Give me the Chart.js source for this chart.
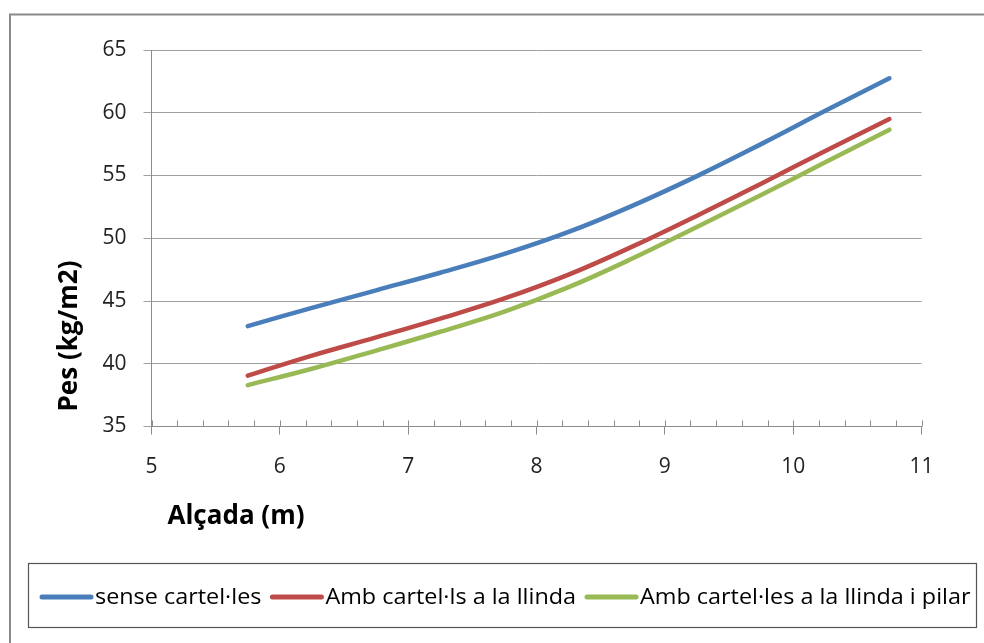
<!DOCTYPE html>
<html>
<head>
<meta charset="utf-8">
<script src="https://cdn.jsdelivr.net/npm/chart.js@4/dist/chart.umd.min.js"></script>
<style>
  html, body { margin: 0; padding: 0; background: #fff; }
  canvas { display: block; }
</style>
</head>
<body>
<canvas id="chart" width="984" height="643"></canvas>
<script>
// values
const alcada = [5.75, 6.25, 6.75, 7.25, 7.75, 8.25, 8.75, 9.25, 9.75, 10.25, 10.75];
const senseCartelles = [43.0, 44.45, 45.85, 47.25, 48.75, 50.5, 52.6, 54.95, 57.5, 60.15, 62.75];
const ambLlinda = [39.05, 40.65, 42.1, 43.6, 45.2, 47.1, 49.35, 51.8, 54.35, 56.95, 59.5];
const ambLlindaPilar = [38.3, 39.6, 41.05, 42.55, 44.15, 46.1, 48.4, 50.9, 53.45, 56.05, 58.65];
const seriesNames = ['sense cartel·les', 'Amb cartel·ls a la llinda', 'Amb cartel·les a la llinda i pilar'];
const seriesColors = ['#4a7ebb', '#be4b48', '#98b954'];
const xTitle = 'Alçada (m)';
const yTitle = 'Pes (kg/m2)';

const FONT = '"Open Sans", Lato, sans-serif';

const toPoints = (ys) => ys.map((y, i) => ({ x: alcada[i], y: y }));

const isMajor = (v) => Math.abs(v - Math.round(v)) < 1e-6;

const decor = {
  id: 'decor',
  beforeDraw(chart) {
    const ctx = chart.ctx;
    ctx.save();
    ctx.fillStyle = '#fff';
    ctx.fillRect(0, 0, chart.width, chart.height);
    ctx.strokeStyle = '#8a8a8a';
    ctx.lineWidth = 2;
    ctx.strokeRect(10, 14.5, chart.width + 20, chart.height + 20);
    ctx.restore();
  },
  beforeDatasetsDraw(chart) {
    // small tick marks on the inside of the x axis
    const ctx = chart.ctx;
    const xs = chart.scales.x;
    const bottom = chart.chartArea.bottom;
    ctx.save();
    ctx.strokeStyle = '#8c8c8c';
    ctx.lineWidth = 1;
    ctx.beginPath();
    xs.ticks.forEach(t => {
      const px = Math.round(xs.getPixelForValue(t.value)) + 0.5;
      ctx.moveTo(px, bottom);
      ctx.lineTo(px, bottom - 6);
    });
    ctx.stroke();
    ctx.restore();
  },
  afterDraw(chart) {
    const ctx = chart.ctx;
    ctx.save();
    // axis titles
    ctx.fillStyle = '#000';
    ctx.font = 'bold 26px ' + FONT;
    ctx.textAlign = 'center';
    ctx.textBaseline = 'middle';
    ctx.fillText(xTitle, 236, 517);
    ctx.translate(70, 336);
    ctx.rotate(-Math.PI / 2);
    ctx.fillText(yTitle, 0, 0);
    ctx.restore();

    // legend box
    ctx.save();
    const box = { l: 28.5, t: 563.5, r: 976.5, b: 627.5 };
    ctx.strokeStyle = '#555';
    ctx.lineWidth = 1.2;
    ctx.strokeRect(box.l, box.t, box.r - box.l, box.b - box.t);
    ctx.font = '22px ' + FONT;
    ctx.textBaseline = 'middle';
    ctx.textAlign = 'left';
    const lineLen = 53, gapA = 2, gapB = 9;
    const cy = 597;
    const n = chart.data.datasets.length;
    const widths = chart.data.datasets.map(d => ctx.measureText(d.label).width);
    const fixed = n * (lineLen + gapA) + (n - 1) * gapB;
    const avail = box.r - 6 - 40 - fixed;
    const sx = avail / widths.reduce((a, b) => a + b, 0);
    let x = 40;
    chart.data.datasets.forEach((d, i) => {
      ctx.strokeStyle = d.borderColor;
      ctx.lineWidth = 5;
      ctx.lineCap = 'round';
      ctx.beginPath();
      ctx.moveTo(x + 2, cy);
      ctx.lineTo(x + lineLen - 2, cy);
      ctx.stroke();
      x += lineLen + gapA;
      ctx.fillStyle = '#000';
      ctx.save();
      ctx.translate(x, cy);
      ctx.scale(sx, 1);
      ctx.fillText(d.label, 0, 1);
      ctx.restore();
      x += widths[i] * sx + gapB;
    });
    ctx.restore();
  }
};

new Chart(document.getElementById('chart').getContext('2d'), {
  type: 'scatter',
  data: {
    datasets: [
      { label: seriesNames[0], data: toPoints(senseCartelles), borderColor: seriesColors[0] },
      { label: seriesNames[1], data: toPoints(ambLlinda), borderColor: seriesColors[1] },
      { label: seriesNames[2], data: toPoints(ambLlindaPilar), borderColor: seriesColors[2] }
    ].map(d => Object.assign(d, {
      showLine: true,
      backgroundColor: d.borderColor,
      borderWidth: 4.5,
      borderCapStyle: 'round',
      borderJoinStyle: 'round',
      pointRadius: 0,
      pointHoverRadius: 0,
      tension: 0.4
    }))
  },
  options: {
    responsive: false,
    animation: false,
    layout: { padding: { left: 0, top: 50, right: 62.5, bottom: 0 } },
    plugins: {
      legend: { display: false },
      tooltip: { enabled: false }
    },
    scales: {
      x: {
        type: 'linear',
        min: 5,
        max: 11,
        afterFit: (s) => { s.height = 216.5; },
        ticks: {
          stepSize: 0.2,
          autoSkip: false,
          maxRotation: 0,
          padding: 20,
          color: '#222',
          font: { family: FONT, size: 21 },
          callback: (v) => isMajor(v) ? String(Math.round(v)) : ''
        },
        grid: {
          drawOnChartArea: false,
          drawTicks: true,
          tickLength: 8,
          color: (c) => (c.tick && isMajor(c.tick.value)) ? '#8c8c8c' : 'rgba(0,0,0,0)'
        },
        border: { color: '#8c8c8c', width: 1 }
      },
      y: {
        min: 35,
        max: 65,
        afterFit: (s) => { s.width = 151.5; },
        ticks: {
          stepSize: 5,
          padding: 17,
          color: '#222',
          font: { family: FONT, size: 21 }
        },
        grid: {
          color: '#a0a0a0',
          lineWidth: 1,
          tickLength: 8
        },
        border: { color: '#8c8c8c', width: 1 }
      }
    }
  },
  plugins: [decor]
});
</script>
</body>
</html>
